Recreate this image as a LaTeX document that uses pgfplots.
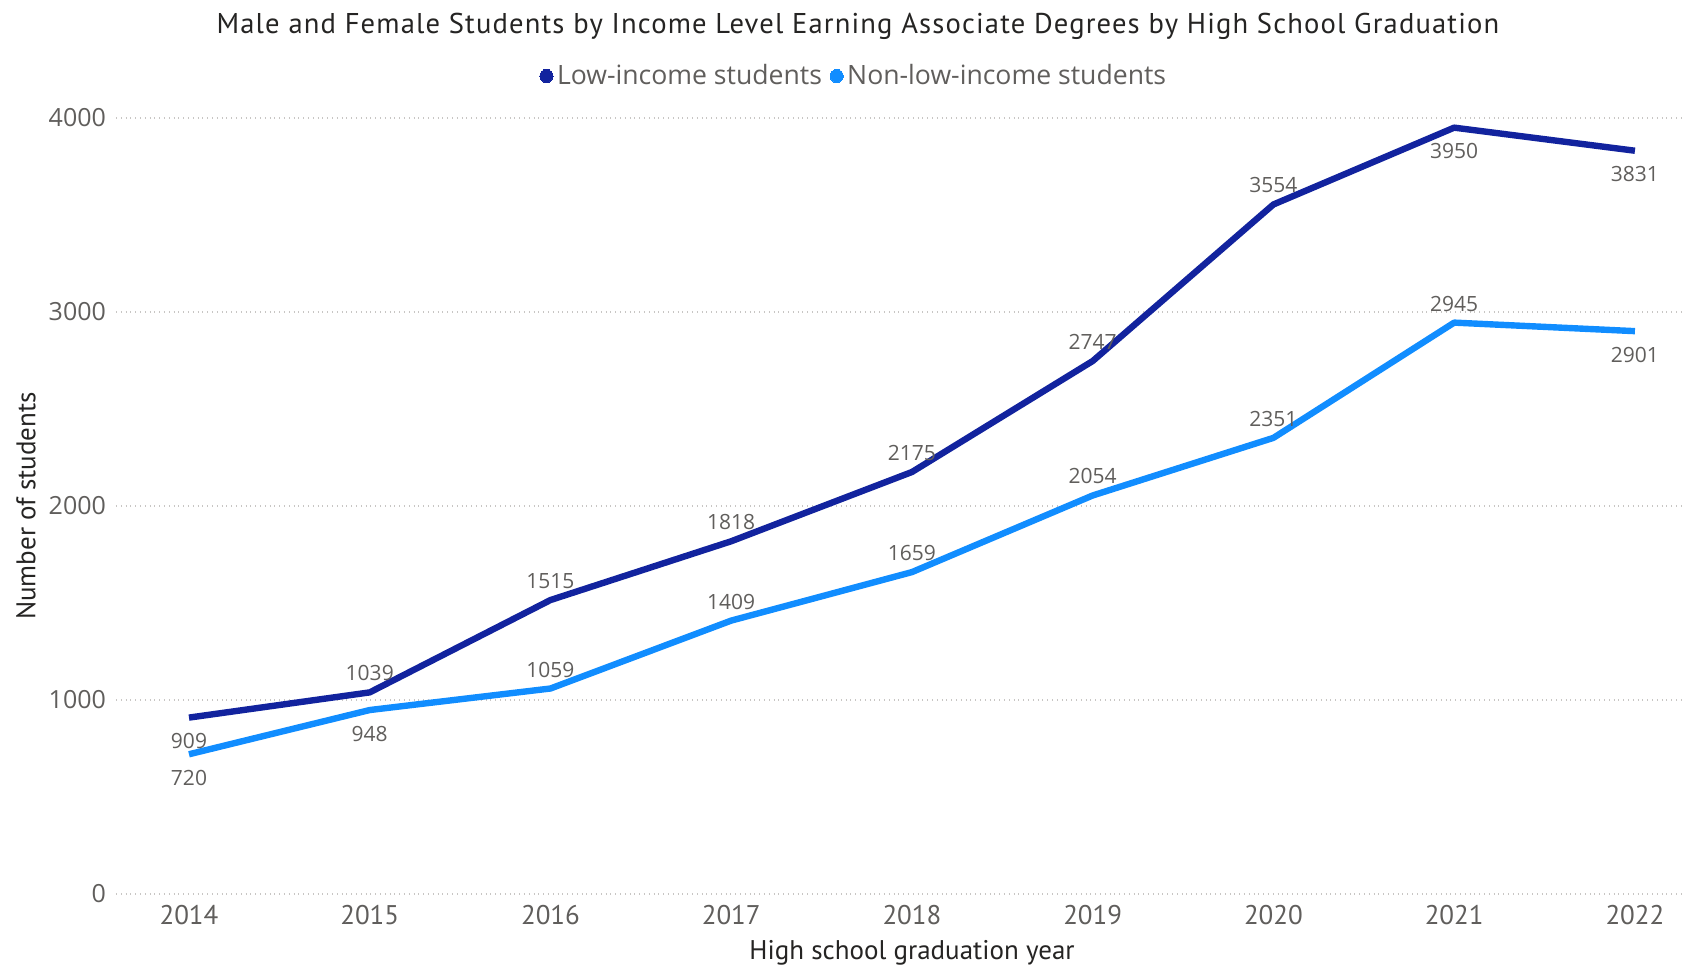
\documentclass[border=0pt]{standalone}
\usepackage{pgfplots}
\pgfplotsset{compat=1.18}
\usepackage{fontspec}
\setmainfont{Open Sans}
\newfontfamily\dinfont{PT Sans}
\newfontfamily\dintitle[LetterSpace=4]{PT Sans}
\definecolor{lowc}{HTML}{12239E}
\definecolor{nonc}{HTML}{118DFF}
\definecolor{tickc}{HTML}{605E5C}
\definecolor{titc}{HTML}{252423}
\definecolor{gridc}{HTML}{C8C6C4}
\begin{document}
\begin{tikzpicture}
\begin{axis}[
  scale only axis, width=783.5pt, height=388pt,
  xmin=2013.596, xmax=2022.266, ymin=0, ymax=4000,
  clip=false,
  axis line style={draw=none},
  major tick length=0pt,
  ymajorgrids, grid style={gridc, dotted, line width=0.8pt},
  xtick={2014,2015,2016,2017,2018,2019,2020,2021,2022},
  xticklabels={2014,2015,2016,2017,2018,2019,2020,2021,2022},
  ytick={0,1000,2000,3000,4000},
  yticklabels={0,1000,2000,3000,4000},
  yticklabel style={font=\fontsize{12.5}{14}\selectfont, text=tickc, xshift=-1.5pt},
  xticklabel style={font=\dinfont\fontsize{13.5}{15}\selectfont, text=tickc, yshift=-2pt},
  /pgf/number format/1000 sep={},
  /pgf/number format/assume math mode=true,
  xlabel={High school graduation year},
  ylabel={Number of students},
  xlabel style={font=\dinfont\fontsize{13.5}{15}\selectfont, text=titc, at={(axis description cs:0.508,-0.076)}, anchor=center},
  ylabel style={font=\dinfont\fontsize{13.5}{15}\selectfont, text=titc, at={(axis description cs:-0.0574,0.5)}, anchor=center},
  legend columns=2,
  legend style={draw=none, fill=none, at={(rel axis cs:0.4716,1.054)}, anchor=center,
    font=\fontsize{13.3}{15}\selectfont, text=tickc,
    /tikz/every even column/.append style={column sep=2pt}},
  legend image code/.code={\fill[#1, line width=0pt] (0.15em,0) circle (3.3pt);},
  nodes near coords style={font=\fontsize{10.5}{12}\selectfont, text=tickc, anchor=center},
]
\addplot[color=lowc, line width=3.2pt, line join=round] coordinates {
 (2014,909) (2015,1039) (2016,1515) (2017,1818) (2018,2175) (2019,2747) (2020,3554) (2021,3950) (2022,3831)};
\addlegendentry{Low-income students}
\addplot[color=nonc, line width=3.2pt, line join=round] coordinates {
 (2014,720) (2015,948) (2016,1059) (2017,1409) (2018,1659) (2019,2054) (2020,2351) (2021,2945) (2022,2901)};
\addlegendentry{Non-low-income students}
% labels above
\addplot[draw=none, forget plot, nodes near coords, nodes near coords style={yshift=9.5pt}] coordinates {
 (2015,1039) (2016,1515) (2017,1818) (2018,2175) (2019,2747) (2020,3554)
 (2016,1059) (2017,1409) (2018,1659) (2019,2054) (2020,2351) (2021,2945)};
% labels below
\addplot[draw=none, forget plot, nodes near coords, nodes near coords style={yshift=-11.8pt}] coordinates {
 (2014,909) (2021,3950) (2022,3831) (2014,720) (2015,948) (2022,2901)};
\node[font=\dintitle\fontsize{14.3}{16}\selectfont, text=titc] at (rel axis cs:0.4735,1.1186) {Male and Female Students by Income Level Earning Associate Degrees by High School Graduation};
\coordinate (bl) at (rel axis cs:-0.074,-0.0928);
\coordinate (tr) at (rel axis cs:1,1.152);
\end{axis}
\pgfresetboundingbox
\path[use as bounding box] (bl) rectangle (tr);
\end{tikzpicture}
\end{document}
